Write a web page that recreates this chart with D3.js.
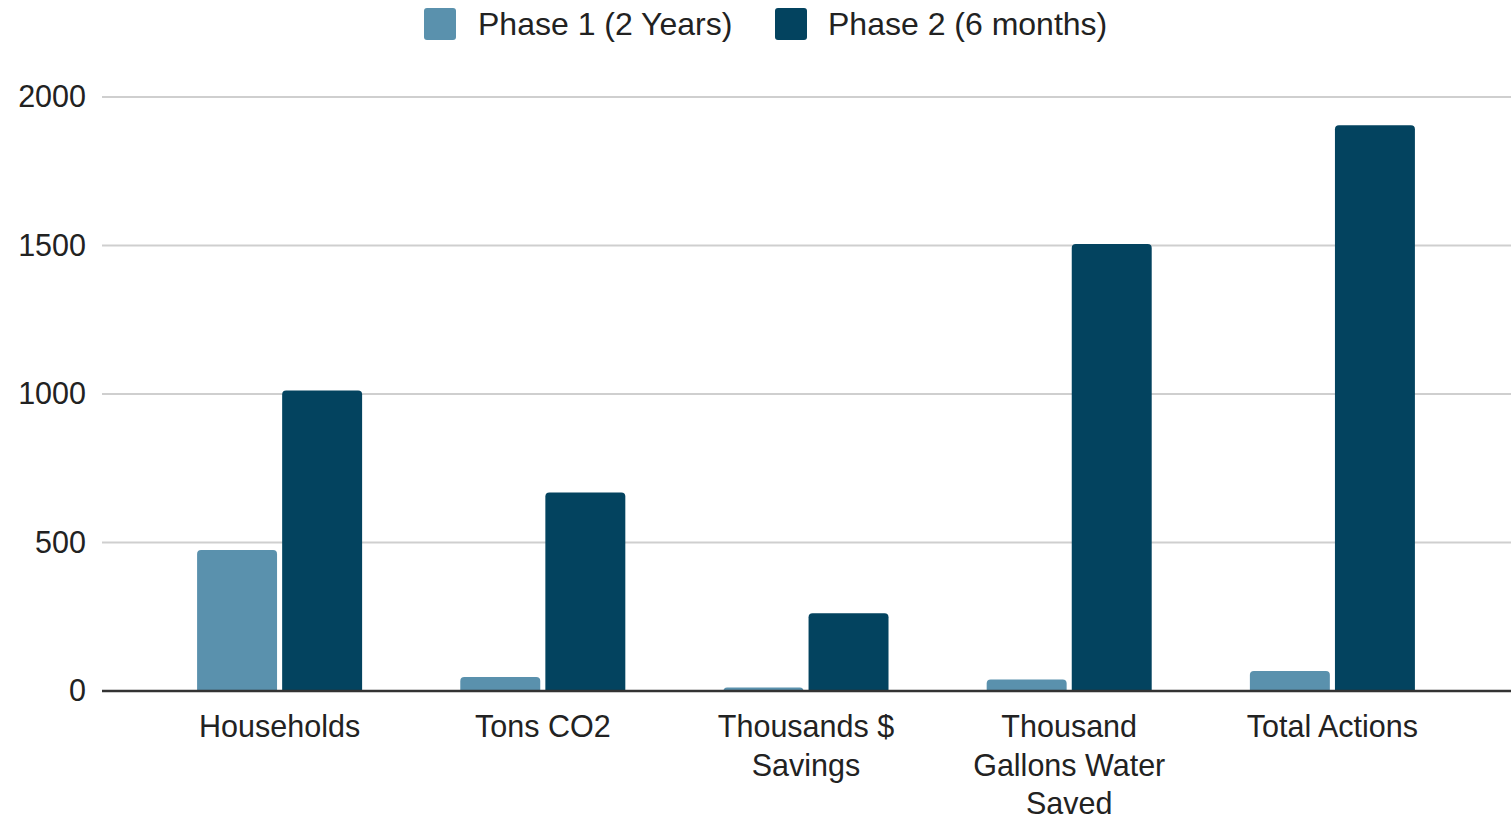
<!DOCTYPE html>
<html>
<head>
<meta charset="utf-8">
<script src="https://cdn.jsdelivr.net/npm/d3@7"></script>
<style>
  body { margin: 0; background: #fff; }
  svg { display: block; font-family: "Liberation Sans", Arial, sans-serif; }
</style>
</head>
<body>
<svg width="1511" height="819"></svg>
<script>
// chart data
const categories = ["Households", "Tons CO2", "Thousands $ Savings", "Thousand Gallons Water Saved", "Total Actions"];
const seriesNames = ["Phase 1 (2 Years)", "Phase 2 (6 months)"];
const phase1 = [475, 47, 12, 39, 67];
const phase2 = [1012, 668, 262, 1505, 1905];
const yTicks = [0, 500, 1000, 1500, 2000];
const colors = ["#5a91ad", "#03435f"];

const rows = categories.map((c, i) => ({ cat: c, values: [phase1[i], phase2[i]] }));

const svg = d3.select("svg");
const plotLeft = 102, plotRight = 1511;
const labelSize = 30.5;

const y = d3.scaleLinear().domain([0, 2000]).range([691, 97]);

const x0 = d3.scaleBand()
  .domain(categories)
  .range([148, 1464])
  .paddingInner(0.373)
  .paddingOuter(0.1865);

const x1 = d3.scaleBand()
  .domain([0, 1])
  .range([0, x0.bandwidth()])
  .paddingInner(0.06);

// gridlines
svg.append("g")
  .selectAll("line")
  .data(yTicks.filter(d => d > 0))
  .join("line")
  .attr("x1", plotLeft).attr("x2", plotRight)
  .attr("y1", d => y(d)).attr("y2", d => y(d))
  .attr("stroke", "#cfcfcf")
  .attr("stroke-width", 2);

// y tick labels
const yAxis = svg.append("g")
  .attr("transform", "translate(86,0)")
  .call(d3.axisLeft(y).tickValues(yTicks).tickFormat(d3.format("d")).tickSize(0).tickPadding(0));
yAxis.select(".domain").remove();
yAxis.selectAll("text")
  .attr("font-size", labelSize)
  .attr("fill", "#222")
  .attr("font-family", "Liberation Sans, Arial, sans-serif");

// bars with rounded tops
function barPath(x, w, top, bottom, r) {
  r = Math.min(r, (bottom - top), w / 2);
  return `M${x},${bottom} V${top + r} Q${x},${top} ${x + r},${top} H${x + w - r} Q${x + w},${top} ${x + w},${top + r} V${bottom} Z`;
}

svg.append("g")
  .selectAll("g")
  .data(rows)
  .join("g")
  .attr("transform", d => `translate(${x0(d.cat)},0)`)
  .selectAll("path")
  .data(d => d.values.map((v, i) => ({ i, v })))
  .join("path")
  .attr("d", d => barPath(x1(d.i), x1.bandwidth(), y(d.v), y(0), 4))
  .attr("fill", d => colors[d.i]);

// zero baseline
svg.append("line")
  .attr("x1", plotLeft).attr("x2", plotRight)
  .attr("y1", y(0)).attr("y2", y(0))
  .attr("stroke", "#333")
  .attr("stroke-width", 2.5);

// x axis labels with wrapping
const xAxis = svg.append("g")
  .attr("transform", `translate(0,${y(0)})`)
  .call(d3.axisBottom(x0).tickSize(0).tickPadding(0));
xAxis.select(".domain").remove();
xAxis.selectAll("text")
  .attr("font-size", labelSize)
  .attr("fill", "#222")
  .attr("font-family", "Liberation Sans, Arial, sans-serif")
  .each(function() { wrap(d3.select(this), 215); });

function wrap(text, width) {
  const words = text.text().split(/\s+/);
  text.text(null).attr("dy", null);
  let line = [];
  let lineNo = 0;
  let tspan = text.append("tspan").attr("x", 0).attr("y", 46);
  words.forEach(word => {
    line.push(word);
    tspan.text(line.join(" "));
    if (tspan.node().getComputedTextLength() > width && line.length > 1) {
      line.pop();
      tspan.text(line.join(" "));
      line = [word];
      lineNo++;
      tspan = text.append("tspan").attr("x", 0).attr("y", 46 + lineNo * 38.5).text(word);
    }
  });
}

// legend
const legendItems = [{ x: 424, tx: 478 }, { x: 775, tx: 828 }];
const legend = svg.append("g")
  .selectAll("g")
  .data(seriesNames)
  .join("g");
legend.append("rect")
  .attr("x", (d, i) => legendItems[i].x)
  .attr("y", 8)
  .attr("width", 32).attr("height", 32)
  .attr("rx", 3)
  .attr("fill", (d, i) => colors[i]);
legend.append("text")
  .attr("x", (d, i) => legendItems[i].tx)
  .attr("y", 24)
  .attr("dy", "0.35em")
  .attr("font-size", 32)
  .attr("fill", "#222")
  .text(d => d);
</script>
</body>
</html>
